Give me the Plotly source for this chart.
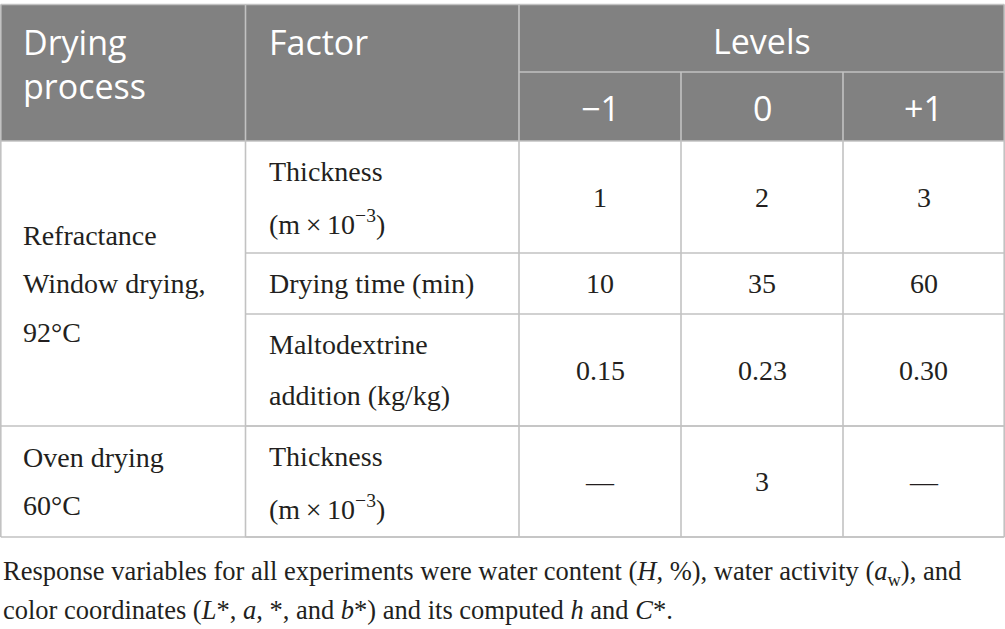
import plotly.graph_objects as go

# table content
processes = ["Refractance<br>Window drying,<br>92°C", "Oven drying<br>60°C"]
process_span = [3, 1]
factors = ["Thickness<br>(m\u2009×\u200910<sup>−3</sup>)", "Drying time (min)",
           "Maltodextrine<br>addition (kg/kg)", "Thickness<br>(m\u2009×\u200910<sup>−3</sup>)"]
level_codes = ["−1", "0", "+1"]
level_minus1 = ["1", "10", "0.15", "—"]
level_0 = ["2", "35", "0.23", "3"]
level_plus1 = ["3", "60", "0.30", "—"]
header_cols = ["Drying<br>process", "Factor", "Levels"]
footnote = ["Response variables for all experiments were water content (<i>H</i>, %), water activity (<i>a</i><sub>w</sub>), and",
            "color coordinates (<i>L</i>*, <i>a</i>, *, and <i>b</i>*) and its computed <i>h</i> and <i>C</i>*."]

# layout (pixel grid)
W, H = 1005, 629
col_x = [0.8, 245.5, 519, 681, 843, 1004.2]
head_y = [4.5, 72, 141]
row_y = [141, 253, 314, 426, 537]
pad = 21
body_pitch = 51
HEAD_BG = "#818181"
GRID = "#c2c2c2"
sans = "Open Sans"
serif = "Liberation Serif"
ink = "#231f20"

fig = go.Figure()
shapes = []
ann = []

def line(x0, y0, x1, y1):
    shapes.append(dict(type="line", x0=x0, y0=y0, x1=x1, y1=y1,
                       line=dict(color=GRID, width=1.6), layer="above"))

def text(x, y, s, size, color, font, anchor="left"):
    ann.append(dict(x=x, y=y, text=s, showarrow=False, xanchor=anchor, yanchor="middle",
                    align=anchor if anchor != "center" else "center",
                    font=dict(size=size, color=color, family=font)))

def lines(x, ymid, s, pitch, size, color, font, anchor="left"):
    # one annotation per line so the wide serif line pitch can be kept
    parts = s.split("<br>")
    y0 = ymid - pitch * (len(parts) - 1) / 2
    for i, p in enumerate(parts):
        text(x, y0 + i * pitch, p, size, color, font, anchor)

# header block
shapes.append(dict(type="rect", x0=col_x[0], x1=col_x[-1], y0=head_y[0], y1=head_y[2],
                   fillcolor=HEAD_BG, line=dict(width=0), layer="below"))
line(col_x[0], head_y[0], col_x[-1], head_y[0])
line(col_x[2], head_y[1], col_x[-1], head_y[1])
for cx in col_x[1:3]:
    line(cx, head_y[0], cx, head_y[2])
for cx in col_x[3:5]:
    line(cx, head_y[1], cx, head_y[2])
line(col_x[0], head_y[0], col_x[0], head_y[2])
line(col_x[-1], head_y[0], col_x[-1], head_y[2])

hs = 34
text(pad, 64, header_cols[0], hs, "white", sans)
text(col_x[1] + pad, 42, header_cols[1], hs, "white", sans)
text((col_x[2] + col_x[-1]) / 2, 41, header_cols[2], hs, "white", sans, "center")
for i, c in enumerate(level_codes):
    text((col_x[2 + i] + col_x[3 + i]) / 2, 108, c, hs, "white", sans, "center")

# body
bs = 28
line(col_x[0], row_y[0], col_x[-1], row_y[0])
r = 0
for p, span in zip(processes, process_span):
    top, bot = row_y[r], row_y[r + span]
    lines(pad, (top + bot) / 2, p, 48.5, bs, ink, serif)
    line(col_x[0], bot, col_x[-1], bot)
    r += span
for k in range(len(factors)):
    top, bot = row_y[k], row_y[k + 1]
    mid = (top + bot) / 2
    line(col_x[1], bot, col_x[-1], bot)
    lines(col_x[1] + pad, mid, factors[k], body_pitch, bs, ink, serif)
    for j, vals in enumerate([level_minus1, level_0, level_plus1]):
        text((col_x[2 + j] + col_x[3 + j]) / 2, mid, vals[k], bs, ink, serif, "center")
for cx in col_x:
    line(cx, row_y[0], cx, row_y[-1])

# footnote
for i, f in enumerate(footnote):
    text(1, 573 + 37 * i, f, 26.5, ink, serif)

fig.update_layout(width=W, height=H, margin=dict(l=0, r=0, t=0, b=0),
                  paper_bgcolor="white", plot_bgcolor="white",
                  shapes=shapes, annotations=ann, showlegend=False,
                  xaxis=dict(range=[0, W], visible=False, fixedrange=True),
                  yaxis=dict(range=[H, 0], visible=False, fixedrange=True))
fig.write_html("out.html", config={"displayModeBar": False},
               post_script="document.body.style.margin='0';document.body.style.overflow='hidden';")
